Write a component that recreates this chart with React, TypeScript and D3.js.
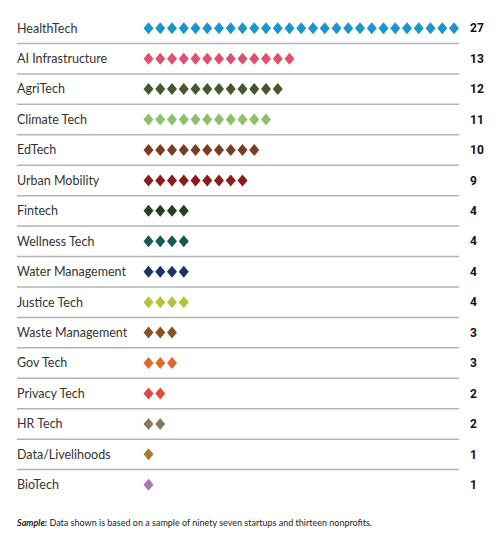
import React from "react";
import * as d3 from "d3";

const categories = [
  "HealthTech", "AI Infrastructure", "AgriTech", "Climate Tech", "EdTech", "Urban Mobility",
  "Fintech", "Wellness Tech", "Water Management", "Justice Tech", "Waste Management",
  "Gov Tech", "Privacy Tech", "HR Tech", "Data/Livelihoods", "BioTech",
];
const counts = [27, 13, 12, 11, 10, 9, 4, 4, 4, 4, 3, 3, 2, 2, 1, 1];
const colors = [
  "#1c95cf", "#e0506e", "#46562f", "#8cc266", "#7d3b22", "#8c1b1c",
  "#24401f", "#125c50", "#1c3363", "#b7c23b", "#8a5326",
  "#e0692a", "#dd4a3f", "#857a5f", "#a97a2b", "#a876b0",
];

export default function App() {
  const W = 500, H = 548;
  const y = d3.scaleBand<string>().domain(categories).range([13, 500]).paddingInner(0).paddingOuter(0);
  const x = d3.scaleLinear().domain([0, 26]).range([148.5, 454]);
  const dw = 5, dh = 6;
  const diamond = `M0,${-dh}L${dw},0L0,${dh}L${-dw},0Z`;
  return (
    <svg width={W} height={H} style={{ position: "absolute", left: 0, top: 0 }}>
      <rect width={W} height={H} fill="#fff" />
      {categories.map((c, i) => {
        const cy = (y(c) as number) + y.bandwidth() / 2;
        return (
          <g key={c}>
            <text x={17} y={cy} dy="0.35em" fontFamily="Lato, 'Noto Sans', sans-serif" fontSize={12.5} fill="#333">{c}</text>
            {d3.range(counts[i]).map((k) => (
              <path key={k} d={diamond} transform={`translate(${x(k)},${cy})`} fill={colors[i]} />
            ))}
            <text x={470} y={cy} dy="0.35em" fontFamily="Roboto, sans-serif" fontWeight={700} fontSize={12} fill="#111">{counts[i]}</text>
            {i < categories.length - 1 && (
              <line x1={17} x2={459} y1={(y(c) as number) + y.bandwidth()} y2={(y(c) as number) + y.bandwidth()} stroke="#b3b3b3" strokeWidth={1.5} />
            )}
          </g>
        );
      })}
      <text x={17} y={526} fontFamily="Lato, 'Noto Sans', sans-serif" fontSize={9} fill="#222">
        <tspan fontWeight={700} fontStyle="italic">Sample:</tspan>
        <tspan> Data shown is based on a sample of ninety seven startups and thirteen nonprofits.</tspan>
      </text>
    </svg>
  );
}
